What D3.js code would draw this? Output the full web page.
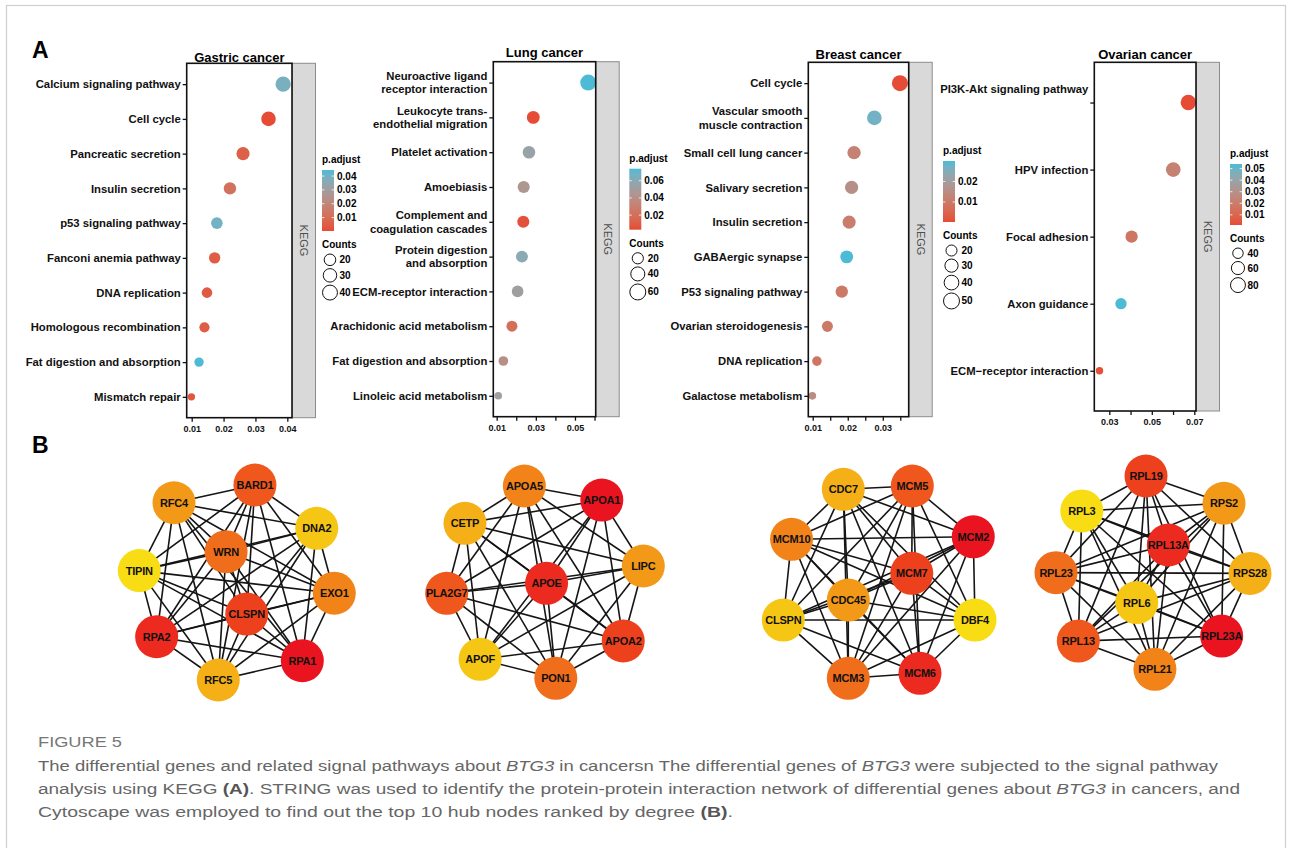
<!DOCTYPE html>
<html>
<head>
<meta charset="utf-8">
<script src="https://cdn.jsdelivr.net/npm/d3@7"></script>
<style>
  html, body { margin: 0; padding: 0; background: #fff; }
  svg { display: block; }
  text { font-family: "Liberation Sans", Arial, sans-serif; }
</style>
</head>
<body>
<script>
// ---------- A: KEGG dot plots ----------
const gastricTerms = ["Calcium signaling pathway", "Cell cycle", "Pancreatic secretion", "Insulin secretion",
  "p53 signaling pathway", "Fanconi anemia pathway", "DNA replication", "Homologous recombination",
  "Fat digestion and absorption", "Mismatch repair"];
const gastricRatio = [0.0387, 0.0341, 0.0261, 0.0220, 0.0179, 0.0172, 0.0148, 0.0140, 0.0123, 0.0099];
const gastricCount = [42, 37, 28, 24, 20, 19, 16, 15, 13, 11];
const gastricPadj  = [0.039, 0.0003, 0.006, 0.012, 0.040, 0.005, 0.004, 0.005, 0.0444, 0.003];
const gastricTicks = [0.01, 0.02, 0.03, 0.04];
const gastricTickLabels = [0.01, 0.02, 0.03, 0.04];
const gastricPadjBreaks = [0.01, 0.02, 0.03, 0.04];
const gastricCountBreaks = [20, 30, 40];

const lungTerms = ["Neuroactive ligand\nreceptor interaction", "Leukocyte trans-\nendothelial migration",
  "Platelet activation", "Amoebiasis", "Complement and\ncoagulation cascades", "Protein digestion\nand absorption",
  "ECM-receptor interaction", "Arachidonic acid metabolism", "Fat digestion and absorption", "Linoleic acid metabolism"];
const lungRatio = [0.0568, 0.0287, 0.0265, 0.0238, 0.0236, 0.0229, 0.0207, 0.0178, 0.0134, 0.0108];
const lungCount = [60, 30, 28, 25, 25, 24, 22, 19, 14, 11];
const lungPadj  = [0.074, 0.003, 0.055, 0.045, 0.005, 0.060, 0.052, 0.020, 0.040, 0.052];
const lungTicks = [0.01, 0.02, 0.03, 0.04, 0.05, 0.06];
const lungTickLabels = [0.01, 0.03, 0.05];
const lungPadjBreaks = [0.02, 0.04, 0.06];
const lungCountBreaks = [20, 40, 60];

const breastTerms = ["Cell cycle", "Vascular smooth\nmuscle contraction", "Small cell lung cancer", "Salivary secretion",
  "Insulin secretion", "GABAergic synapse", "P53 signaling pathway", "Ovarian steroidogenesis",
  "DNA replication", "Galactose metabolism"];
const breastRatio = [0.0349, 0.0276, 0.0218, 0.0211, 0.0204, 0.0197, 0.0183, 0.0142, 0.0112, 0.0099];
const breastCount = [50, 39, 31, 30, 29, 28, 26, 20, 16, 14];
const breastPadj  = [0.0002, 0.027, 0.012, 0.016, 0.011, 0.030, 0.010, 0.010, 0.009, 0.015];
const breastTicks = [0.01, 0.015, 0.02, 0.025, 0.03, 0.035];
const breastTickLabels = [0.01, 0.02, 0.03];
const breastPadjBreaks = [0.01, 0.02];
const breastCountBreaks = [20, 30, 40, 50];

const ovarianTerms = ["PI3K-Akt signaling pathway\n\n", "HPV infection", "Focal adhesion", "Axon guidance",
  "ECM\u2212receptor interaction"];
const ovarianRatio = [0.0672, 0.0601, 0.0405, 0.0355, 0.0254];
const ovarianCount = [86, 77, 52, 45, 32];
const ovarianPadj  = [0.0012, 0.022, 0.017, 0.054, 0.002];
const ovarianTicks = [0.03, 0.04, 0.05, 0.06, 0.07];
const ovarianTickLabels = [0.03, 0.05, 0.07];
const ovarianPadjBreaks = [0.01, 0.02, 0.03, 0.04, 0.05];
const ovarianCountBreaks = [40, 60, 80];

const panelTitles = ["Gastric cancer", "Lung cancer", "Breast cancer", "Ovarian cancer"];
const xLimits = [[0.00843, 0.04147], [0.00827, 0.0606], [0.00874, 0.0374], [0.02294, 0.0708]];

// ---------- B: hub gene networks (layout in 0-100 units, rank 1 = highest degree) ----------
const net1Genes = ["BARD1", "RFC4", "DNA2", "WRN", "TIPIN", "EXO1", "CLSPN", "RPA2", "RPA1", "RFC5"];
const net1X = [59.3, 17.8, 91.0, 44.5, 0, 100, 55.1, 8.9, 83.6, 40.5];
const net1Y = [0, 9.1, 22.2, 34.2, 43.9, 55.5, 66.2, 77.8, 90.1, 100];
const net1Rank = [4, 7, 9, 5, 10, 6, 3, 2, 1, 8];

const net2Genes = ["APOA5", "APOA1", "CETP", "LIPC", "APOE", "PLA2G7", "APOA2", "APOF", "PON1"];
const net2X = [39.5, 78.9, 9.3, 100, 50.8, 0, 89.8, 17.0, 55.5];
const net2Y = [0, 7.3, 19.4, 41.6, 50.6, 55.8, 80.6, 90.1, 100];
const net2Rank = [6, 1, 8, 7, 2, 4, 3, 9, 5];

const net3Genes = ["CDC7", "MCM5", "MCM2", "MCM10", "MCM7", "CDC45", "CLSPN", "DBF4", "MCM3", "MCM6"];
const net3X = [31.3, 67.3, 99.1, 4.3, 67.0, 33.9, 0, 100, 33.9, 71.3];
const net3Y = [1.7, 0, 26.4, 27.7, 45.4, 59.3, 69.7, 69.7, 100, 97.4];
const net3Rank = [8, 4, 1, 6, 3, 7, 9, 10, 5, 2];

const net4Genes = ["RPL19", "RPS2", "RPL3", "RPL13A", "RPL23", "RPS28", "RPL6", "RPL13", "RPL23A", "RPL21"];
const net4X = [46.4, 86.6, 13.3, 57.9, 0, 100, 41.6, 11.5, 85.4, 51.0];
const net4Y = [0, 14.1, 18.1, 35.7, 50.0, 50.4, 65.5, 85.4, 82.8, 100];
const net4Rank = [3, 7, 10, 2, 5, 8, 9, 4, 1, 6];

// ---------- layout ----------
const W = 1292, H = 848;
const LOW = "#E64B35", HIGH = "#4DBBD5";
const STRIP_W = 23.5;

const panelLayout = [
  {box: [186.7, 63.3, 292, 417.7], titleY: 62,   legendX: 322,   legendY: 163,   rRange: [3.7, 7.6]},
  {box: [493.3, 61.7, 595.7, 416.7], titleY: 57, legendX: 629.3, legendY: 161.7, rRange: [3.8, 8]},
  {box: [808.3, 62.3, 908.7, 416.7], titleY: 59, legendX: 943,   legendY: 154,   rRange: [3.8, 8]},
  {box: [1094.3, 62.3, 1196, 411], titleY: 58.5, legendX: 1230,  legendY: 157,   rRange: [3.7, 7.7]}
];

const netLayout = [
  {x: [139.3, 334.3], y: [485, 680]},
  {x: [446.7, 643.3], y: [486, 678.3]},
  {x: [783.3, 975],   y: [486, 678.3]},
  {x: [1056, 1250],   y: [476, 669.3]}
];

const panels = [
  {terms: gastricTerms, ratio: gastricRatio, count: gastricCount, padj: gastricPadj, ticks: gastricTicks,
   tickLabels: gastricTickLabels, padjBreaks: gastricPadjBreaks, countBreaks: gastricCountBreaks},
  {terms: lungTerms, ratio: lungRatio, count: lungCount, padj: lungPadj, ticks: lungTicks,
   tickLabels: lungTickLabels, padjBreaks: lungPadjBreaks, countBreaks: lungCountBreaks},
  {terms: breastTerms, ratio: breastRatio, count: breastCount, padj: breastPadj, ticks: breastTicks,
   tickLabels: breastTickLabels, padjBreaks: breastPadjBreaks, countBreaks: breastCountBreaks},
  {terms: ovarianTerms, ratio: ovarianRatio, count: ovarianCount, padj: ovarianPadj, ticks: ovarianTicks,
   tickLabels: ovarianTickLabels, padjBreaks: ovarianPadjBreaks, countBreaks: ovarianCountBreaks}
];

const networks = [
  {genes: net1Genes, x: net1X, y: net1Y, rank: net1Rank},
  {genes: net2Genes, x: net2X, y: net2Y, rank: net2Rank},
  {genes: net3Genes, x: net3X, y: net3Y, rank: net3Rank},
  {genes: net4Genes, x: net4X, y: net4Y, rank: net4Rank}
];

const svg = d3.select("body").append("svg").attr("width", W).attr("height", H);
const defs = svg.append("defs");

// page frame
svg.append("rect")
  .attr("x", 6.5).attr("y", 5.5).attr("width", 1279).attr("height", 880)
  .attr("fill", "none").attr("stroke", "#cfcfcf").attr("stroke-width", 1.2);

svg.append("text").attr("x", 32).attr("y", 58).attr("font-size", 23).attr("font-weight", "bold").text("A");
svg.append("text").attr("x", 32).attr("y", 453).attr("font-size", 23).attr("font-weight", "bold").text("B");

const fmt = d3.format(".2f");
const near = (a, b) => Math.abs(a - b) < 1e-9;

panels.forEach((p, i) => {
  const L = panelLayout[i];
  const [x0, y0, x1, y1] = L.box;
  const g = svg.append("g");

  const rows = p.terms.map((t, j) => ({term: t, ratio: p.ratio[j], count: p.count[j], padj: p.padj[j]}));

  const x = d3.scaleLinear().domain(xLimits[i]).range([x0, x1]);
  const y = d3.scalePoint().domain(p.terms).range([y0, y1]).padding(0.6);
  const padjExtent = d3.extent(p.padj);
  const color = d3.scaleLinear().domain(padjExtent).range([LOW, HIGH]).interpolate(d3.interpolateLab);
  const countNorm = d3.scaleLinear().domain(d3.extent(p.count)).range([0, 1]);
  const rLin = d3.scaleLinear().domain([0, 1]).range(L.rRange);
  const r = c => rLin(Math.sqrt(Math.max(0, countNorm(c))));

  // facet strip
  g.append("rect")
    .attr("x", x1).attr("y", y0).attr("width", STRIP_W).attr("height", y1 - y0)
    .attr("fill", "#d9d9d9").attr("stroke", "#8c8c8c").attr("stroke-width", 1);
  g.append("text")
    .attr("transform", `translate(${x1 + STRIP_W / 2},${(y0 + y1) / 2}) rotate(90)`)
    .attr("text-anchor", "middle").attr("dy", "0.35em")
    .attr("font-size", 11).attr("fill", "#4d4d4d").text("KEGG");

  // panel background
  g.append("rect").attr("x", x0).attr("y", y0).attr("width", x1 - x0).attr("height", y1 - y0).attr("fill", "#fff");

  // dots
  g.selectAll("circle.dot").data(rows).join("circle")
    .attr("class", "dot")
    .attr("cx", d => x(d.ratio))
    .attr("cy", d => y(d.term))
    .attr("r", d => r(d.count))
    .attr("fill", d => color(d.padj));

  // box
  g.append("rect").attr("x", x0).attr("y", y0).attr("width", x1 - x0).attr("height", y1 - y0)
    .attr("fill", "none").attr("stroke", "#111").attr("stroke-width", 1.6);

  // title
  g.append("text").attr("x", (x0 + x1) / 2).attr("y", L.titleY)
    .attr("text-anchor", "middle").attr("font-size", 13).attr("font-weight", "bold")
    .text(panelTitles[i]);

  // x axis
  const xAxis = d3.axisBottom(x).tickValues(p.ticks).tickSize(4).tickPadding(4)
    .tickFormat(d => p.tickLabels.some(v => near(v, d)) ? fmt(d) : "");
  const gx = g.append("g").attr("transform", `translate(0,${y1})`).call(xAxis);
  gx.select(".domain").remove();
  gx.selectAll("line").attr("stroke", "#111").attr("stroke-width", 1.3);
  gx.selectAll("text").attr("font-size", 9).attr("font-weight", "bold").attr("fill", "#111")
    .attr("font-family", "Liberation Sans, Arial, sans-serif");

  // y axis
  const yAxis = d3.axisLeft(y).tickSize(4).tickPadding(2);
  const gy = g.append("g").attr("transform", `translate(${x0},0)`).call(yAxis);
  gy.select(".domain").remove();
  gy.selectAll("line").attr("stroke", "#111").attr("stroke-width", 1.3);
  gy.selectAll("text").each(function (d) {
    const t = d3.select(this);
    const lines = d.split("\n");
    t.text(null).attr("dy", null)
      .attr("font-size", 11.3).attr("font-weight", "bold").attr("fill", "#111")
      .attr("font-family", "Liberation Sans, Arial, sans-serif");
    lines.forEach((ln, k) => {
      t.append("tspan").attr("x", -6)
        .attr("dy", k === 0 ? (0.32 - (lines.length - 1) * 0.6) + "em" : "1.2em")
        .text(ln);
    });
  });

  // legend: p.adjust colourbar
  const lx = L.legendX, ly = L.legendY;
  const barTop = ly + 7, barH = 61, barW = 12;
  g.append("text").attr("x", lx).attr("y", ly).attr("font-size", 10).attr("font-weight", "bold").text("p.adjust");
  const gid = "grad" + i;
  const grad = defs.append("linearGradient").attr("id", gid)
    .attr("x1", 0).attr("y1", 1).attr("x2", 0).attr("y2", 0);
  d3.range(0, 1.0001, 0.1).forEach(f => {
    grad.append("stop").attr("offset", f)
      .attr("stop-color", color(padjExtent[0] + f * (padjExtent[1] - padjExtent[0])));
  });
  g.append("rect").attr("x", lx).attr("y", barTop).attr("width", barW).attr("height", barH)
    .attr("fill", `url(#${gid})`);
  const yb = d3.scaleLinear().domain(padjExtent).range([barTop + barH, barTop]);
  p.padjBreaks.forEach(v => {
    g.append("line").attr("x1", lx).attr("x2", lx + 2.4).attr("y1", yb(v)).attr("y2", yb(v))
      .attr("stroke", "#fff").attr("stroke-width", 0.8);
    g.append("line").attr("x1", lx + barW - 2.4).attr("x2", lx + barW).attr("y1", yb(v)).attr("y2", yb(v))
      .attr("stroke", "#fff").attr("stroke-width", 0.8);
    g.append("text").attr("x", lx + barW + 3).attr("y", yb(v)).attr("dy", "0.35em")
      .attr("font-size", 10).attr("font-weight", "bold").text(fmt(v));
  });

  // legend: Counts
  const cy0 = barTop + barH + 17;
  g.append("text").attr("x", lx).attr("y", cy0).attr("font-size", 10).attr("font-weight", "bold").text("Counts");
  const rMax = d3.max(p.countBreaks, r);
  const cx = lx + rMax + 0.5;
  let cy = cy0 + 6;
  p.countBreaks.forEach((c, k) => {
    const rc = r(c);
    cy += k === 0 ? rc : r(p.countBreaks[k - 1]) + rc + 3;
    g.append("circle").attr("cx", cx).attr("cy", cy).attr("r", rc)
      .attr("fill", "none").attr("stroke", "#111").attr("stroke-width", 1);
    g.append("text").attr("x", cx + rMax + 2).attr("y", cy).attr("dy", "0.35em")
      .attr("font-size", 10).attr("font-weight", "bold").text(c);
  });
});

// ---------- B: networks ----------
const nodeColor = d3.scaleLinear().domain([1, 10]).range(["#ea1420", "#f8dc14"]);
const NODE_R = 21.5;

networks.forEach((n, i) => {
  const L = netLayout[i];
  const sx = d3.scaleLinear().domain([0, 100]).range(L.x);
  const sy = d3.scaleLinear().domain([0, 100]).range(L.y);
  const nodes = n.genes.map((gname, j) => ({gene: gname, x: n.x[j], y: n.y[j], rank: n.rank[j]}));
  const links = [];
  nodes.forEach((a, j) => nodes.slice(j + 1).forEach(b => links.push([a, b])));

  const g = svg.append("g");
  g.selectAll("line").data(links).join("line")
    .attr("x1", d => sx(d[0].x)).attr("y1", d => sy(d[0].y))
    .attr("x2", d => sx(d[1].x)).attr("y2", d => sy(d[1].y))
    .attr("stroke", "#151515").attr("stroke-width", 1.6);
  const node = g.selectAll("g.node").data(nodes).join("g").attr("class", "node")
    .attr("transform", d => `translate(${sx(d.x)},${sy(d.y)})`);
  node.append("circle").attr("r", NODE_R).attr("fill", d => nodeColor(d.rank));
  node.append("text").attr("text-anchor", "middle").attr("dy", "0.36em")
    .attr("font-size", 11).attr("font-weight", "bold").attr("fill", "#111")
    .attr("letter-spacing", -0.2).text(d => d.gene);
});

// ---------- caption ----------
const cap = svg.append("g").attr("font-family", "Open Sans, sans-serif").attr("fill", "#666");
cap.append("text").attr("x", 38).attr("y", 747).attr("font-size", 15.5)
  .attr("font-family", "Open Sans, sans-serif").attr("fill", "#777")
  .attr("textLength", 84).attr("lengthAdjust", "spacingAndGlyphs").text("FIGURE 5");

const capLines = [
  {y: 771, len: 1180, parts: [["The differential genes and related signal pathways about ", ""], ["BTG3", "i"],
    [" in cancersn The differential genes of ", ""], ["BTG3", "i"], [" were subjected to the signal pathway", ""]]},
  {y: 794, len: 1202, parts: [["analysis using KEGG ", ""], ["(A)", "b"],
    [". STRING was used to identify the protein-protein interaction network of differential genes about ", ""],
    ["BTG3", "i"], [" in cancers, and", ""]]},
  {y: 817, len: 695, parts: [["Cytoscape was employed to find out the top 10 hub nodes ranked by degree ", ""],
    ["(B)", "b"], [".", ""]]}
];
capLines.forEach(l => {
  const t = cap.append("text").attr("x", 38).attr("y", l.y).attr("font-size", 15.5)
    .attr("font-family", "Open Sans, sans-serif")
    .attr("textLength", l.len).attr("lengthAdjust", "spacingAndGlyphs");
  l.parts.forEach(([s, st]) => {
    const ts = t.append("tspan").text(s);
    if (st === "i") ts.attr("font-style", "italic");
    if (st === "b") ts.attr("font-weight", "bold").attr("fill", "#555");
  });
});
</script>
</body>
</html>
